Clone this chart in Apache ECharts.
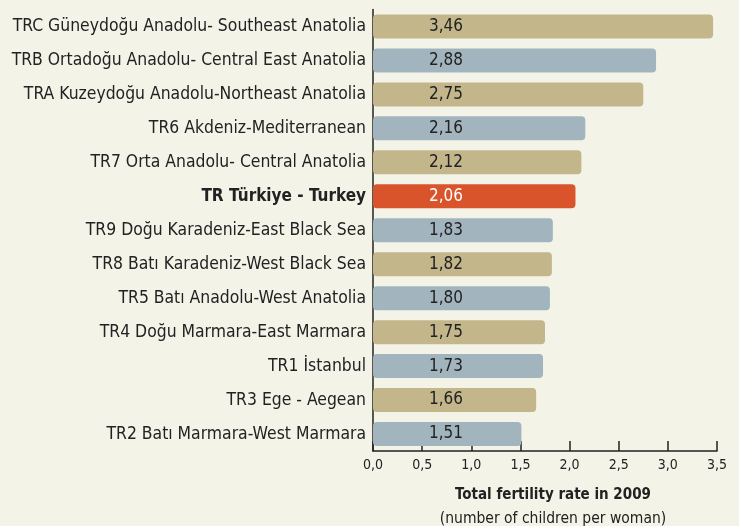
<!DOCTYPE html>
<html>
<head>
<meta charset="utf-8">
<script src="https://cdn.jsdelivr.net/npm/echarts@6/dist/echarts.min.js"></script>
<style>
html,body{margin:0;padding:0;background:#f4f3e8;}
#c{width:739px;height:526px;}
</style>
</head>
<body>
<div id="c"></div>
<script>
const categories = [
  "TRC Güneydoğu Anadolu- Southeast Anatolia",
  "TRB Ortadoğu Anadolu- Central East Anatolia",
  "TRA Kuzeydoğu Anadolu-Northeast Anatolia",
  "TR6 Akdeniz-Mediterranean",
  "TR7 Orta Anadolu- Central Anatolia",
  "TR Türkiye - Turkey",
  "TR9 Doğu Karadeniz-East Black Sea",
  "TR8 Batı Karadeniz-West Black Sea",
  "TR5 Batı Anadolu-West Anatolia",
  "TR4 Doğu Marmara-East Marmara",
  "TR1 İstanbul",
  "TR3 Ege - Aegean",
  "TR2 Batı Marmara-West Marmara"
];
const values = [3.46, 2.88, 2.75, 2.16, 2.12, 2.06, 1.83, 1.82, 1.80, 1.75, 1.73, 1.66, 1.51];
const barKinds = ["tan","blue","tan","blue","tan","highlight","blue","tan","blue","tan","blue","tan","blue"];
const tickLabels = ["0,0","0,5","1,0","1,5","2,0","2,5","3,0","3,5"];
const axisTitle = "Total fertility rate in 2009";
const axisSubtitle = "(number of children per woman)";

const kindColor = {tan:"#c2b68a", blue:"#a2b5bf", highlight:"#d9532b"};
const FONT = "'DejaVu Sans Condensed','DejaVu Sans',sans-serif";

const chart = echarts.init(document.getElementById('c'));
const catRev = categories.slice().reverse();
const valRev = values.slice().reverse();
const kindRev = barKinds.slice().reverse();

chart.setOption({
  backgroundColor: "#f4f3e8",
  animation: false,
  grid: {left: 373, right: 22, top: 9.5, bottom: 75, containLabel: false, outerBoundsMode: 'none'},
  xAxis: {
    type: 'value', min: 0, max: 3.5, interval: 0.5,
    axisLine: {show: true, lineStyle: {color: "#222", width: 1.5}},
    axisTick: {show: true, inside: true, length: 10, lineStyle: {color: "#222", width: 1.5}},
    splitLine: {show: false},
    axisLabel: {
      color: "#222", fontFamily: FONT, fontSize: 14, margin: 7,
      formatter: (v) => tickLabels[Math.round(v / 0.5)]
    },
    name: "{t|" + axisTitle + "}\n{s|" + axisSubtitle + "}",
    nameLocation: 'middle', nameGap: 32,
    nameTextStyle: {
      padding: [0, 0, 0, 16],
      rich: {
        t: {fontFamily: FONT, fontSize: 15, fontWeight: 'bold', color: "#222", lineHeight: 24},
        s: {fontFamily: FONT, fontSize: 15.5, color: "#222", lineHeight: 24}
      }
    }
  },
  yAxis: {
    type: 'category', data: catRev,
    axisLine: {show: true, lineStyle: {color: "#222", width: 1.5}},
    axisTick: {show: false},
    axisLabel: {
      color: "#222", fontFamily: FONT, fontSize: 17.4, margin: 7,
      formatter: (v) => v === "TR Türkiye - Turkey" ? "{b|" + v + "}" : v,
      rich: {b: {fontFamily: FONT, fontSize: 17, fontWeight: 'bold', color: "#222"}}
    }
  },
  series: [{
    type: 'bar',
    barWidth: 24,
    data: valRev.map((v, i) => ({
      value: v,
      itemStyle: {color: kindColor[kindRev[i]], borderRadius: 4},
      label: {color: kindRev[i] === 'highlight' ? "#ffffff" : "#222"}
    })),
    label: {
      show: true, position: 'insideLeft', distance: 0, offset: [56, 0],
      fontFamily: FONT, fontSize: 17,
      formatter: (p) => p.value.toFixed(2).replace('.', ',')
    }
  }]
});
</script>
</body>
</html>
